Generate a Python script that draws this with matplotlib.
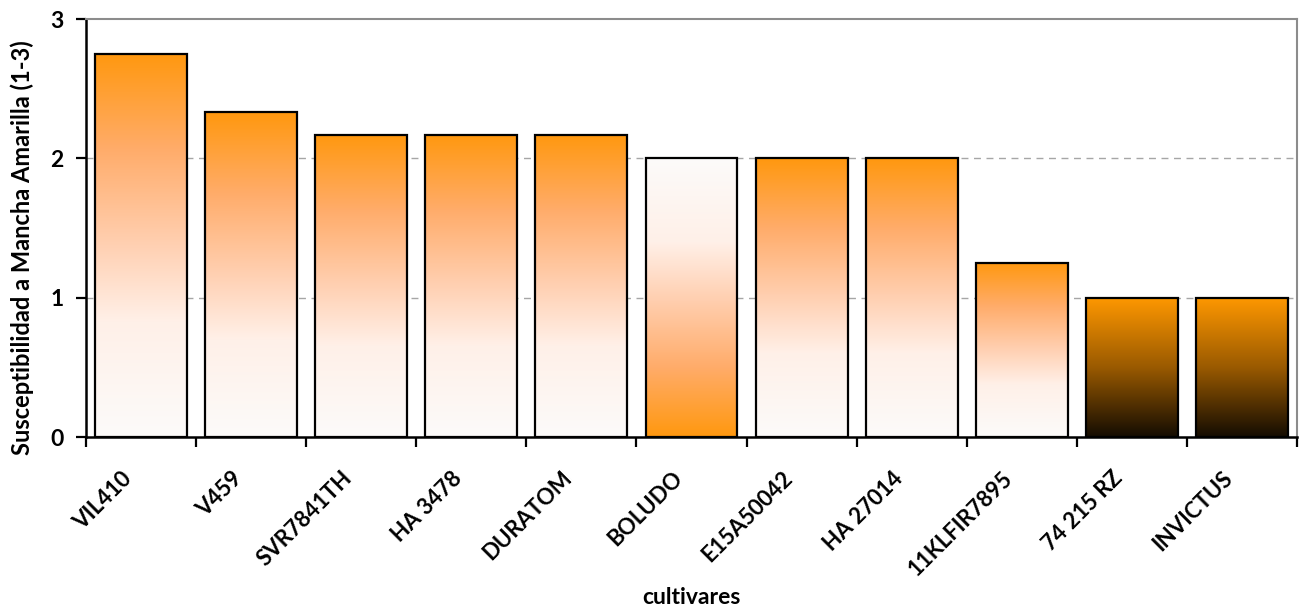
import numpy as np
import matplotlib
matplotlib.use("Agg")
import matplotlib.pyplot as plt
import matplotlib.transforms as mtransforms
from matplotlib.colors import LinearSegmentedColormap

cultivares = ["VIL410", "V459", "SVR7841TH", "HA 3478", "DURATOM", "BOLUDO",
              "E15A50042", "HA 27014", "11KLFIR7895", "74 215 RZ", "INVICTUS"]
valores = [2.75, 2.33, 2.17, 2.17, 2.17, 2.0, 2.0, 2.0, 1.25, 1.0, 1.0]
# tipo de degradado de cada barra
degradado = ["claro", "claro", "claro", "claro", "claro", "inverso",
             "claro", "claro", "claro", "oscuro", "oscuro"]

plt.rcParams['font.family'] = ['Lato', 'DejaVu Sans']
plt.rcParams['font.weight'] = 'bold'

naranja = "#ff980f"
pasos_claro = [(0, "#fcfbfa"), (0.3, "#fff0e8"), (0.5, "#ffd0b2"), (0.75, "#ffac6a"), (1, naranja)]
mapas = {
    "claro": LinearSegmentedColormap.from_list("c", pasos_claro),
    "inverso": LinearSegmentedColormap.from_list("i", [(1 - p, c) for p, c in pasos_claro][::-1]),
    "oscuro": LinearSegmentedColormap.from_list("o", [(0, "#140c02"), (0.5, "#9a5a00"), (1, "#ff9800")]),
}

fig = plt.figure(figsize=(13, 6.09), dpi=100)
ax = fig.add_axes([0.0662, 0.2824, 0.9315, 0.6864])

x = np.arange(len(cultivares))
ancho = 0.835
barras = ax.bar(x, valores, width=ancho, color="none", edgecolor="black", linewidth=1.6, zorder=3)

grad = np.linspace(0, 1, 256).reshape(-1, 1)
for b, tipo in zip(barras, degradado):
    x0, y0 = b.get_x(), b.get_y()
    w, h = b.get_width(), b.get_height()
    im = ax.imshow(grad, cmap=mapas[tipo], origin="lower", aspect="auto",
                   extent=[x0, x0 + w, y0, y0 + h], zorder=2)
    im.set_clip_path(b)

ax.set_xlim(-0.5, len(cultivares) - 0.5)
ax.set_ylim(0, 3)
ax.set_yticks([0, 1, 2, 3])
ax.set_yticklabels(["0", "1", "2", "3"], fontsize=16.5, fontweight="bold")
ax.set_xticks(x)
ax.set_xticklabels(cultivares, rotation=45, ha="right", rotation_mode="anchor",
                   fontsize=16, fontweight="bold")
ax.tick_params(axis="x", which="major", length=0, pad=22)
ax.set_xticks(np.arange(-0.5, len(cultivares), 1), minor=True)
ax.tick_params(axis="x", which="minor", length=7, width=1.6, direction="out")
ax.tick_params(axis="y", length=7, width=1.6, direction="out", pad=9)

desplazar = mtransforms.ScaledTranslation(-20 / 100, 0, fig.dpi_scale_trans)
for lab in ax.get_xticklabels():
    lab.set_transform(lab.get_transform() + desplazar)

for yv in [1, 2]:
    ax.axhline(yv, color="#a6a6a6", linestyle=(0, (5, 4)), linewidth=1, zorder=1)

ax.spines["left"].set_linewidth(1.8)
ax.spines["bottom"].set_linewidth(1.8)
ax.spines["top"].set_color("#8c8c8c")
ax.spines["right"].set_color("#8c8c8c")
ax.spines["top"].set_linewidth(1.5)
ax.spines["right"].set_linewidth(1.5)

ax.set_ylabel("Susceptibilidad a Mancha Amarilla (1-3)", fontsize=17, fontweight="bold", va="center")
ax.yaxis.set_label_coords(-0.053, 0.452)
ax.set_xlabel("cultivares", fontsize=16.5, fontweight="bold", va="center")
ax.xaxis.set_label_coords(0.5, -0.385)

fig.savefig("out.png", dpi=100)
